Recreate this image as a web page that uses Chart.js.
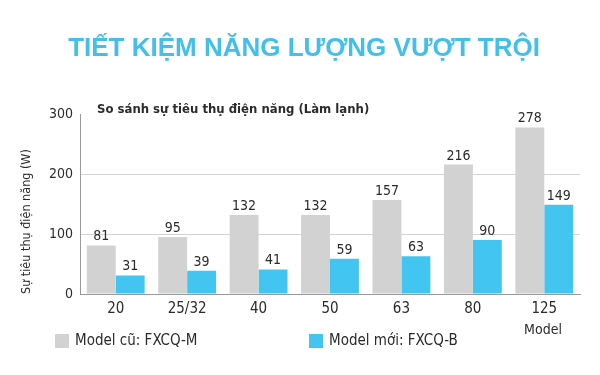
<!DOCTYPE html>
<html lang="vi">
<head>
  <meta charset="UTF-8" />
  <title>Tiết kiệm năng lượng vượt trội</title>
  <script src="https://cdn.jsdelivr.net/npm/chart.js"></script>
  <style>
    html, body {
      margin: 0;
      padding: 0;
      background: #fff;
    }
    #wrap {
      width: 600px;
      height: 375px;
      position: relative;
    }
  </style>
</head>
<body>
  <div id="wrap">
    <canvas id="chart" width="600" height="375"></canvas>
  </div>

  <script>
    const models = ['20', '25/32', '40', '50', '63', '80', '125'];
    const oldModel = [81, 95, 132, 132, 157, 216, 278];
    const newModel = [31, 39, 41, 59, 63, 90, 149];
    const yTicks = [0, 100, 200, 300];

    const NARROW = '"DejaVu Sans Condensed", Roboto, sans-serif';
    const TEXT = '#2b2b2b';

    // value labels, subtitle, "Model" and the legend
    const extras = {
      id: 'extras',
      afterDatasetsDraw(chart) {
        const ctx = chart.ctx;
        ctx.save();
        ctx.font = '14px ' + NARROW;
        ctx.fillStyle = TEXT;
        ctx.textAlign = 'center';
        ctx.textBaseline = 'alphabetic';
        chart.data.datasets.forEach((ds, i) => {
          chart.getDatasetMeta(i).data.forEach((bar, j) => {
            ctx.fillText(ds.data[j], bar.x, bar.y - 5);
          });
        });
        ctx.restore();
      },
      afterDraw(chart) {
        const ctx = chart.ctx;
        ctx.save();
        ctx.fillStyle = TEXT;
        ctx.textBaseline = 'alphabetic';
        ctx.textAlign = 'left';
        ctx.font = 'bold 13px ' + NARROW;
        ctx.fillText('So sánh sự tiêu thụ điện năng (Làm lạnh)', 97, 113);

        ctx.textAlign = 'center';
        ctx.textBaseline = 'middle';
        ctx.font = '14px ' + NARROW;
        ctx.fillText('Model', 543, 330);

        // legend
        const xs = [55, 309];
        ctx.textAlign = 'left';
        ctx.font = '15px ' + NARROW;
        chart.data.datasets.forEach((ds, i) => {
          ctx.fillStyle = ds.backgroundColor;
          ctx.fillRect(xs[i], 334, 14, 14);
          ctx.fillStyle = TEXT;
          ctx.fillText(ds.label, xs[i] + 20, 341);
        });
        ctx.restore();
      }
    };

    new Chart(document.getElementById('chart'), {
      type: 'bar',
      data: {
        labels: models,
        datasets: [
          {
            label: 'Model cũ: FXCQ-M',
            data: oldModel,
            backgroundColor: '#d2d2d2',
            barPercentage: 1,
            categoryPercentage: 0.81
          },
          {
            label: 'Model mới: FXCQ-B',
            data: newModel,
            backgroundColor: '#42c6f1',
            barPercentage: 1,
            categoryPercentage: 0.81
          }
        ]
      },
      options: {
        responsive: false,
        animation: false,
        layout: { padding: { left: 28, right: 20, top: 0, bottom: 0 } },
        plugins: {
          legend: { display: false },
          tooltip: { enabled: false },
          title: {
            display: true,
            text: 'TIẾT KIỆM NĂNG LƯỢNG VƯỢT TRỘI',
            color: '#43bfec',
            font: { family: '"Liberation Sans", Arial, sans-serif', size: 26, weight: 'bold', lineHeight: 1.2 },
            padding: { top: 33, bottom: 50 }
          }
        },
        scales: {
          x: {
            grid: { display: false, drawTicks: false },
            border: { display: true, color: '#9a9a9a', width: 1 },
            ticks: {
              color: TEXT,
              padding: 6,
              font: { family: NARROW, size: 15 }
            },
            afterFit(scale) { scale.height = 81; }
          },
          y: {
            min: 0,
            max: 300,
            afterBuildTicks(scale) {
              scale.ticks = yTicks.map(v => ({ value: v }));
            },
            grid: {
              drawTicks: false,
              color: c => (c.tick && (c.tick.value === 300 || c.tick.value === 0)) ? 'rgba(0,0,0,0)' : '#d3d3d3'
            },
            border: { display: true, color: '#9a9a9a', width: 1 },
            ticks: {
              color: TEXT,
              padding: 7,
              font: { family: NARROW, size: 14 }
            },
            title: {
              display: true,
              text: 'Sự tiêu thụ điện năng (W)',
              align: 'start',
              color: TEXT,
              font: { family: NARROW, size: 12.5, lineHeight: 1.2 },
              padding: { top: -8.5, bottom: 0 }
            },
            afterFit(scale) { scale.width = 52; }
          }
        }
      },
      plugins: [extras]
    });
  </script>
</body>
</html>
